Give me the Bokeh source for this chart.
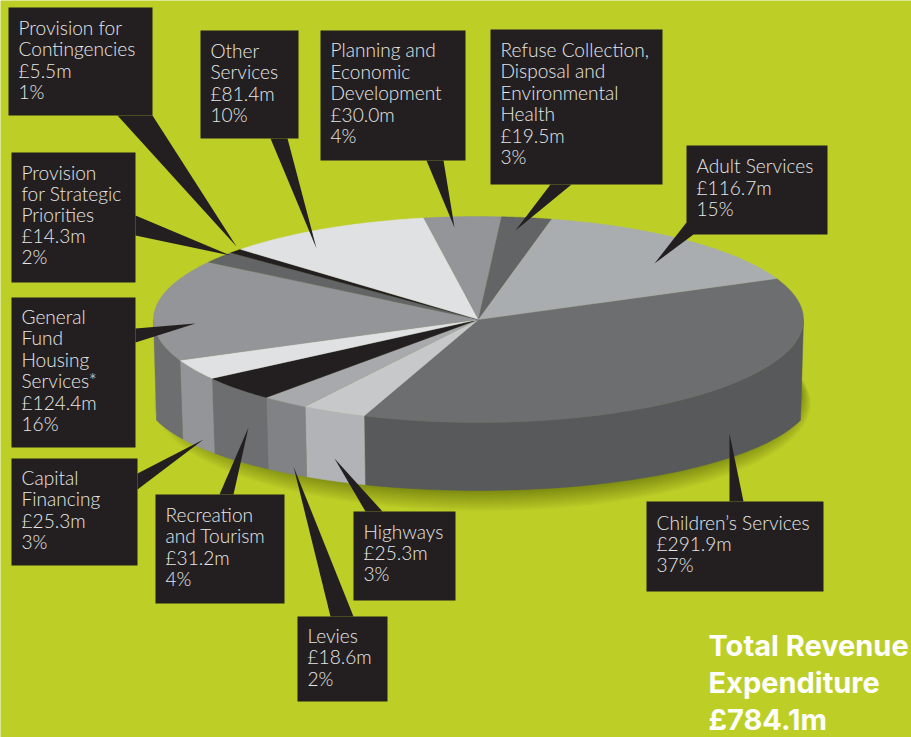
import numpy as np
from bokeh.plotting import figure
from bokeh.models import Range1d
from bokeh.core.properties import value
from bokeh.embed import file_html
from bokeh.resources import INLINE

# ---- data ----
categories = [
    ["Children’s Services"],
    ["Highways"],
    ["Levies"],
    ["Recreation", "and Tourism"],
    ["Capital", "Financing"],
    ["General", "Fund", "Housing", "Services*"],
    ["Provision", "for Strategic", "Priorities"],
    ["Provision for", "Contingencies"],
    ["Other", "Services"],
    ["Planning and", "Economic", "Development"],
    ["Refuse Collection,", "Disposal and", "Environmental", "Health"],
    ["Adult Services"],
]
amounts = [291.9, 25.3, 18.6, 31.2, 25.3, 124.4, 14.3, 5.5, 81.4, 30.0, 19.5, 116.7]
percents = [37, 3, 2, 4, 3, 16, 2, 1, 10, 4, 3, 15]
total_lines = ["Total Revenue", "Expenditure", "£784.1m"]

# ---- styles ----
BG = "#bdcf27"
BOX = "#231f20"
TEXT = "#e6e7e8"
top_colors = ["#6d6e70", "#c7c8ca", "#a7a9ac", "#231f20", "#e0e1e3", "#939598",
              "#636466", "#231f20", "#e0e1e3", "#939598", "#636466", "#a9adb0"]
side_colors = ["#58595b", "#b1b3b6", "#808285", "#6d6e70", "#939598", "#6d6e70",
               "#636466", "#231f20", "#e0e1e3", "#939598", "#636466", "#a9adb0"]

# ---- layout (pixels of the page picture) ----
CX, CY, A, B = 478, 319, 325, 103
BOT_CY, BOT_A, BOT_B, BOT_HALF = 393, 335, 97, 322
START_DEG = 23.4
TEXT_DX, TEXT_DY = -1, -8

# box x0, y0, x1, y1, text x, first baseline, line pitch, pointer base a, base b, tip
callouts = [
    (646, 501, 823, 591, 657, 530, 21.2, (729, 501), (743, 501), (729, 433)),
    (353, 511, 455, 600, 364, 539, 21.2, (365, 511), (382, 511), (334, 458)),
    (297, 616, 387, 701, 308, 643, 21.4, (330, 616), (353, 616), (293, 466)),
    (155, 494, 284, 603, 166, 522, 21.3, (219, 494), (233, 494), (248, 427)),
    (11, 458, 137, 565, 22, 485, 21.3, (137, 473), (137, 489), (203, 439)),
    (11, 297, 135, 447, 22, 324, 21.4, (135, 328), (135, 342), (195, 323)),
    (11, 152, 135, 282, 22, 180, 21.1, (135, 215), (135, 235), (230, 255)),
    (8, 7, 152, 115, 19, 35, 21.3, (117, 115), (152, 115), (236, 246)),
    (200, 30, 298, 138, 211, 58, 21.3, (270, 138), (287, 138), (316, 248)),
    (320, 30, 465, 160, 331, 57, 21.5, (426, 160), (443, 160), (454, 227)),
    (490, 29, 662, 184, 501, 57, 21.4, (550, 184), (571, 184), (515, 230)),
    (686, 145, 827, 234, 697, 173, 21.5, (686, 222), (693, 234), (654, 263)),
]

p = figure(width=911, height=737, output_backend="svg", toolbar_location=None,
           x_range=Range1d(0, 911), y_range=Range1d(737, 0),
           background_fill_color=BG, border_fill_color=BG,
           min_border=0, outline_line_color=None)
p.xaxis.visible = False
p.yaxis.visible = False
p.grid.visible = False

# angular extent of each slice, clockwise from the start angle
fractions = np.array(amounts) / sum(amounts)
ends = np.radians(START_DEG) - np.cumsum(fractions) * 2 * np.pi
starts = np.concatenate([[np.radians(START_DEG)], ends[:-1]])


def bottom_y(x):
    return BOT_CY + BOT_B * np.sqrt(np.clip(1 - ((x - CX) / BOT_A) ** 2, 0, 1))


# soft shadow under the drum
theta = np.linspace(0, 2 * np.pi, 200)
for k in range(22):
    p.patch(CX + 4 + (318 + 0.5 * k) * np.cos(theta),
            BOT_CY + 0.5 * k + (BOT_B + 0.5 * k) * np.sin(theta),
            fill_color="#000000", fill_alpha=0.016, line_color=None)

# drum side: only the part of each slice that faces the viewer
for t0, t1, col in zip(starts, ends, side_colors):
    hi, lo = min(t0, 0.0), max(t1, -np.pi)
    if hi <= lo:
        continue
    t = np.linspace(hi, lo, 60)
    x_top = CX + A * np.cos(t)
    y_top = CY + B * np.sin(-t)
    x_bot = CX + BOT_HALF * np.cos(t)
    y_bot = bottom_y(x_bot)
    p.patch(np.concatenate([x_top, x_bot[::-1]]), np.concatenate([y_top, y_bot[::-1]]),
            fill_color=col, line_color=col, line_width=0.5)

# top face
for t0, t1, col in zip(starts, ends, top_colors):
    t = np.linspace(t0, t1, 80)
    p.patch(np.concatenate([[CX], CX + A * np.cos(t)]),
            np.concatenate([[CY], CY + B * np.sin(-t)]),
            fill_color=col, line_color=col, line_width=0.4)

# callouts
for cats, amount, pct, c in zip(categories, amounts, percents, callouts):
    x0, y0, x1, y1, tx, ty, pitch, a, b, tip = c
    p.patch([a[0], b[0], tip[0]], [a[1], b[1], tip[1]], fill_color=BOX, line_color=None)
    p.quad(left=[x0], right=[x1], top=[y0], bottom=[y1], fill_color=BOX, line_color=None)
    lines = list(cats) + [f"£{amount:.1f}m", f"{pct}%"]
    p.text(x=[tx + TEXT_DX] * len(lines),
           y=[ty + TEXT_DY + i * pitch for i in range(len(lines))], text=lines,
           text_font=value("Lato Light"), text_font_size="19.1px", text_color=TEXT,
           text_baseline="alphabetic", text_align="left")

p.text(x=[708] * 3, y=[645, 682, 719], text=total_lines,
       text_font=value("Inter"), text_font_style="bold", text_font_size="29px",
       text_color="#ffffff", text_baseline="alphabetic", text_align="left")

open("out.html", "w").write(file_html(p, INLINE))
